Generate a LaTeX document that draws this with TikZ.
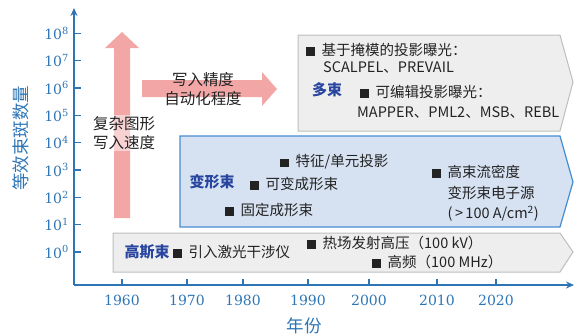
\documentclass[tikz,border=0pt]{standalone}
\usepackage{fontspec}
\setmainfont{Liberation Serif}
\newfontfamily\cjk{Noto Sans CJK SC}
\newfontfamily\numf{DejaVu Serif}
\usetikzlibrary{arrows.meta}
\definecolor{axisblue}{RGB}{46,117,182}
\definecolor{tagblue}{RGB}{40,70,160}
\definecolor{pinkarr}{RGB}{242,166,166}
\definecolor{grayfill}{RGB}{238,238,238}
\definecolor{graydraw}{RGB}{190,190,190}
\definecolor{bluefill}{RGB}{214,226,242}
\definecolor{bluedraw}{RGB}{70,140,210}
\definecolor{textdark}{RGB}{35,35,35}
\newcommand{\sqm}{\rule[-0.3pt]{8.5pt}{8.5pt}\hspace{7pt}}
\begin{document}
\begin{tikzpicture}[x=1pt,y=-1pt,
  axisline/.style={draw=axisblue, line width=1.6pt},
  tickline/.style={draw=axisblue, line width=1.3pt},
  ylab/.style={font=\numf\fontsize{14}{14}\selectfont, text=axisblue, anchor=east, inner sep=0pt},
  xlab/.style={font=\numf\fontsize{14}{14}\selectfont, text=axisblue, inner sep=0pt},
  axtitle/.style={font=\cjk\fontsize{17.5}{17.5}\selectfont, text=axisblue, inner sep=0pt},
  bt/.style={font=\cjk\fontsize{14.5}{17}\selectfont, text=textdark, anchor=west, inner sep=0pt},
  tag/.style={font=\cjk\bfseries\fontsize{15}{15}\selectfont, text=tagblue, inner sep=0pt},
  pinktext/.style={font=\cjk\fontsize{15.5}{19}\selectfont, text=textdark, align=center, inner sep=1pt},
  graybox/.style={fill=grayfill, draw=graydraw, line width=1pt},
  bluebox/.style={fill=bluefill, draw=bluedraw, line width=1.2pt},
  pinkarrow/.style={fill=pinkarr, draw=none}
]
\useasboundingbox (0,0) rectangle (574,335);

% pink arrows
\fill[pinkarrow] (114,218) -- (114,48) -- (105,48) -- (122,32) -- (139,48) -- (130,48) -- (130,218) -- cycle;
\fill[pinkarrow] (142,80) -- (262,80) -- (262,72) -- (277,89) -- (262,106) -- (262,97) -- (142,97) -- cycle;
\node[pinktext, fill=white, fill opacity=0.5, text opacity=1] (speed) at (124,133) {复杂图形\\写入速度};
\node[pinktext] (prec) at (203,89) {写入精度\\自动化程度};

% boxes
\draw[graybox] (298,35) -- (560,35) -- (573,82) -- (560,131) -- (298,131) -- cycle;
\draw[bluebox] (180,136) -- (560,136) -- (573,182) -- (560,227) -- (180,227) -- cycle;
\draw[graybox] (113,233) -- (560,233) -- (573,252) -- (560,272) -- (113,272) -- cycle;

% axes
\coordinate (O) at (74,285);
\coordinate (ytop) at (74,8);
\coordinate (xend) at (574,285);
\draw[axisline, -{Stealth[length=8pt,width=7pt]}] (O) -- (ytop);
\draw[axisline, -{Stealth[length=8pt,width=7pt]}] (O) -- (xend);

\foreach \n in {0,...,8}{
  \pgfmathsetmacro{\yy}{252-27.35*\n}
  \draw[tickline] (74,\yy) -- (81,\yy);
  \node[ylab] (yl\n) at (69,\yy) {10\textsuperscript{\n}};
}
\foreach \yr/\xx in {1960/122,1970/187,1980/243,1990/308,2000/369,2010/437,2020/496}{
  \draw[tickline] (\xx,285) -- (\xx,279);
  \node[xlab] (xl\yr) at (\xx,300) {\yr};
}
\node[axtitle] (xt) at (304,326) {年份};
\node[axtitle, rotate=90] (yt) at (21,138) {等效束斑数量};

% multi-beam
\node[bt] (m1) at (306,50) {\sqm 基于掩模的投影曝光：};
\node[bt] (m2) at (323,67) {SCALPEL、PREVAIL};
\node[tag] (mtag) at (327,90) {多束};
\node[bt] (m3) at (360,92) {\sqm 可编辑投影曝光：};
\node[bt] (m4) at (357,112) {MAPPER、PML2、MSB、REBL};

% shaped beam
\node[tag] (stag) at (212,182) {变形束};
\node[bt] (s1) at (280,162) {\sqm 特征/单元投影};
\node[bt] (s2) at (250,184) {\sqm 可变成形束};
\node[bt] (s3) at (225,210) {\sqm 固定成形束};
\node[bt] (s4) at (432,172) {\sqm 高束流密度};
\node[bt] (s5) at (447.5,193) {变形束电子源};
\node[bt] (s6) at (447.5,214) {(\,>\,100 A/cm\textsuperscript{2})};

% gaussian
\node[tag] (gtag) at (147,252) {高斯束};
\node[bt] (g1) at (173,252) {\sqm 引入激光干涉仪};
\node[bt] (g2) at (307,243) {\sqm 热场发射高压（100 kV）};
\node[bt] (g3) at (372,262) {\sqm 高频（100 MHz）};
\end{tikzpicture}
\end{document}
